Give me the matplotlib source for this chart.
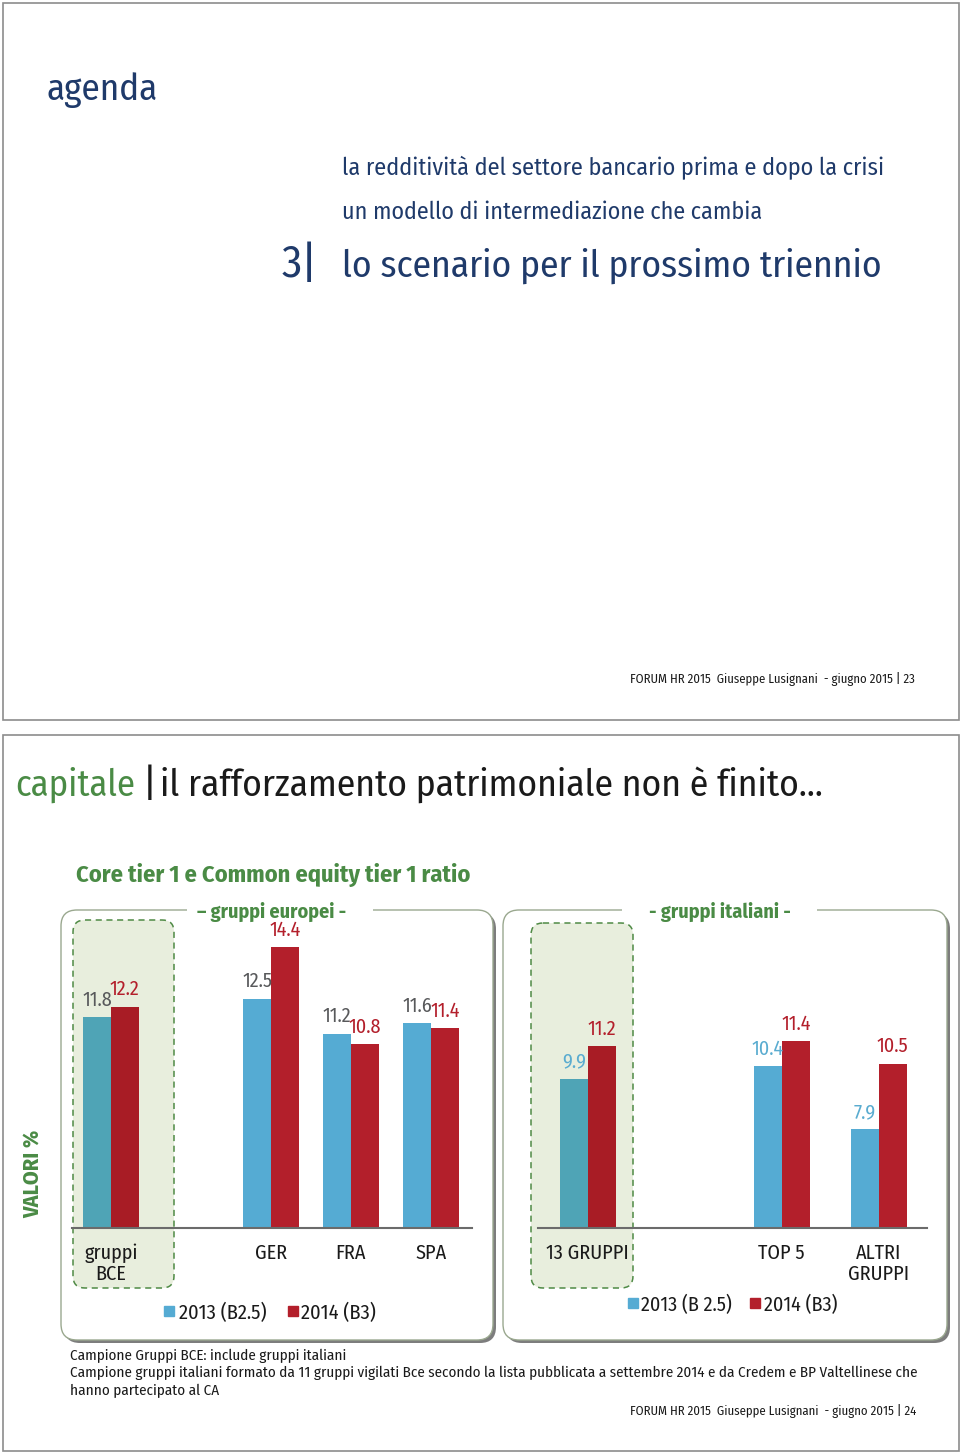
import matplotlib
matplotlib.use("Agg")
import matplotlib.pyplot as plt
from matplotlib import font_manager
from matplotlib.patches import FancyBboxPatch, Rectangle

# --- data ---
eu_groups = ["gruppi\nBCE", "GER", "FRA", "SPA"]
eu_2013 = [11.8, 12.5, 11.2, 11.6]
eu_2014 = [12.2, 14.4, 10.8, 11.4]

it_groups = ["13 GRUPPI", "TOP 5", "ALTRI\nGRUPPI"]
it_2013 = [9.9, 10.4, 7.9]
it_2014 = [11.2, 11.4, 10.5]

agenda_items = ["la redditività del settore bancario prima e dopo la crisi",
                "un modello di intermediazione che cambia"]
footnotes = ["Campione Gruppi BCE: include gruppi italiani",
             "Campione gruppi italiani formato da 11 gruppi vigilati Bce secondo la lista pubblicata a settembre 2014 e da Credem e BP Valtellinese che",
             "hanno partecipato al CA"]

# --- font: narrow sans if there is one ---
available = {f.name for f in font_manager.fontManager.ttflist}
FONT = "DejaVu Sans"
for cand in ["Fira Sans Condensed", "Roboto Condensed", "PT Sans Narrow", "Liberation Sans Narrow", "Roboto"]:
    if cand in available:
        FONT = cand
        break

NAVY = "#1f3a6a"
GREEN = "#4a8b45"
BLUE = "#55abd3"
TEAL = "#4fa4b6"
RED = "#b31f2b"
DRED = "#a81c25"
GREY_TXT = "#58595b"

fig = plt.figure(figsize=(9.6, 14.55), dpi=100)
bg = fig.add_axes([0, 0, 1, 1])
bg.set_xlim(0, 960)
bg.set_ylim(1455, 0)
bg.axis("off")
renderer = fig.canvas.get_renderer()


def fit(t, width):
    w = t.get_window_extent(renderer).width
    t.set_fontsize(t.get_fontsize() * width / w)


def txt(x, y, s, size, color="#1a1a1a", weight="normal", ha="left", va="baseline", width=None, **kw):
    t = bg.text(x, y, s, fontsize=size, color=color, fontweight=weight, ha=ha, va=va,
                family=FONT, **kw)
    if width:
        fit(t, width)
    return t


def rbox(x0, y0, x1, y1, r, **kw):
    p = FancyBboxPatch((x0, y0), x1 - x0, y1 - y0,
                       boxstyle=f"round,pad=0,rounding_size={r}", **kw)
    bg.add_patch(p)
    return p


# slide frames
bg.add_patch(Rectangle((3, 3), 956, 717, fill=False, ec="#8c8c8c", lw=1.2))
bg.add_patch(Rectangle((3, 735), 956, 716, fill=False, ec="#8c8c8c", lw=1.2))

# ---- slide 23: agenda ----
txt(47, 100, "agenda", 27, NAVY, width=111)
txt(342, 175, agenda_items[0], 16, NAVY, width=543)
txt(342, 219, agenda_items[1], 16, NAVY, width=420)
txt(282, 277, "3|", 28, NAVY, width=36)
txt(342, 277, "lo scenario per il prossimo triennio", 28, NAVY, width=541)
txt(915, 683, "FORUM HR 2015  Giuseppe Lusignani  - giugno 2015 | 23", 9, "#1a1a1a",
    ha="right", width=285)

# ---- slide 24 ----
txt(15, 796, "capitale", 28, GREEN, width=120)
txt(143, 796, "|", 28, "#1a1a1a")
txt(160, 796, "il rafforzamento patrimoniale non è finito…", 28, "#1a1a1a", width=664)
txt(76, 882, "Core tier 1 e Common equity tier 1 ratio", 16, GREEN, weight="bold", width=394)
vt = bg.text(33, 1174, "VALORI %", fontsize=17, color=GREEN, fontweight="bold", family=FONT,
             rotation=90, ha="center", va="center")
vt.set_fontsize(17 * 88 / vt.get_window_extent(renderer).height)

# panels with shadow
for x0, x1 in [(61, 493), (503, 947)]:
    rbox(x0 + 3, 913, x1 + 3, 1343, 16, fc="#7d7d7d", ec="none", zorder=0.5)
    rbox(x0, 910, x1, 1340, 16, fc="white", ec="#9aa88f", lw=1, zorder=0.6)

# dashed highlight boxes
for x0, y0, x1 in [(73, 920, 174), (531, 923, 633)]:
    rbox(x0, y0, x1, 1288, 12, fc="#e8eedd", ec="#4f8a45", lw=1.1,
         ls=(0, (4, 3)), zorder=0.7)

# panel titles breaking the top border
bg.add_patch(Rectangle((187, 903), 186, 14, fc="white", ec="none", zorder=0.8))
bg.add_patch(Rectangle((622, 903), 195, 14, fc="white", ec="none", zorder=0.8))
txt(272, 918, "– gruppi europei -", 14, GREEN, weight="bold", ha="center", width=149, zorder=0.9)
txt(720, 918, "- gruppi italiani -", 14, GREEN, weight="bold", ha="center", width=141, zorder=0.9)


def bar_axes(x0, y0, x1, y1):
    return fig.add_axes([x0 / 960, 1 - y1 / 1455, (x1 - x0) / 960, (y1 - y0) / 1455])


def draw_panel(ax, pos, groups, v13, v14, w, lab13_color):
    c13 = [TEAL] + [BLUE] * (len(pos) - 1)
    c14 = [DRED] + [RED] * (len(pos) - 1)
    ax.bar([p - w / 2 for p in pos], v13, width=w, color=c13, zorder=2)
    ax.bar([p + w / 2 for p in pos], v14, width=w, color=c14, zorder=2)
    for p, a, b in zip(pos, v13, v14):
        ax.annotate(f"{a}", (p - w / 2, a), xytext=(0, 8), textcoords="offset points",
                    ha="center", va="baseline", fontsize=14.5, color=lab13_color, family=FONT)
        ax.annotate(f"{b}", (p + w / 2, b), xytext=(0, 8), textcoords="offset points",
                    ha="center", va="baseline", fontsize=14.5, color=RED, family=FONT)
    ax.set_xticks(pos, groups, fontsize=14.5, family=FONT, color="#1a1a1a", linespacing=1.08)
    ax.tick_params(axis="x", length=0, pad=11)
    ax.set_yticks([])
    for s in ["top", "left", "right"]:
        ax.spines[s].set_visible(False)
    ax.spines["bottom"].set_color("#6b6b6b")
    ax.spines["bottom"].set_linewidth(1.5)
    ax.patch.set_alpha(0)


ax1 = bar_axes(71.7, 930, 471.7, 1228)
ax1.set_xlim(-0.49, 4.51)
ax1.set_ylim(4, 4 + 298 / 27)
draw_panel(ax1, [0, 2, 3, 4], eu_groups, eu_2013, eu_2014, 0.345, GREY_TXT)

ax2 = bar_axes(538.3, 930, 927.3, 1228)
ax2.set_xlim(-0.51, 3.5)
ax2.set_ylim(4, 4 + 298 / 25.3)
draw_panel(ax2, [0, 2, 3], it_groups, it_2013, it_2014, 0.287, "#5aacd0")

# legends
for (sq1, t13, w13, sq2, t14, y, lab13) in [(164, 179, 88, 288, 301, 1311, "2013 (B2.5)"),
                                            (628, 641, 91, 750, 764, 1303, "2013 (B 2.5)")]:
    bg.add_patch(Rectangle((sq1, y - 5), 10, 10, color=BLUE, zorder=1))
    bg.add_patch(Rectangle((sq2, y - 5), 10, 10, color=RED, zorder=1))
    lt = txt(t13, y, lab13, 15, "#1a1a1a", va="center_baseline", zorder=1, width=w13)
    txt(t14, y, "2014 (B3)", lt.get_fontsize(), "#1a1a1a", va="center_baseline", zorder=1)

# footnotes
fn = txt(70, 1377, footnotes[1], 10, "#1a1a1a", width=845)
fs = fn.get_fontsize()
txt(70, 1360, footnotes[0], fs, "#1a1a1a")
txt(70, 1395, footnotes[2], fs, "#1a1a1a")
txt(916, 1415, "FORUM HR 2015  Giuseppe Lusignani  - giugno 2015 | 24", 9, "#1a1a1a",
    ha="right", width=286)

fig.savefig("out.png", dpi=100)
